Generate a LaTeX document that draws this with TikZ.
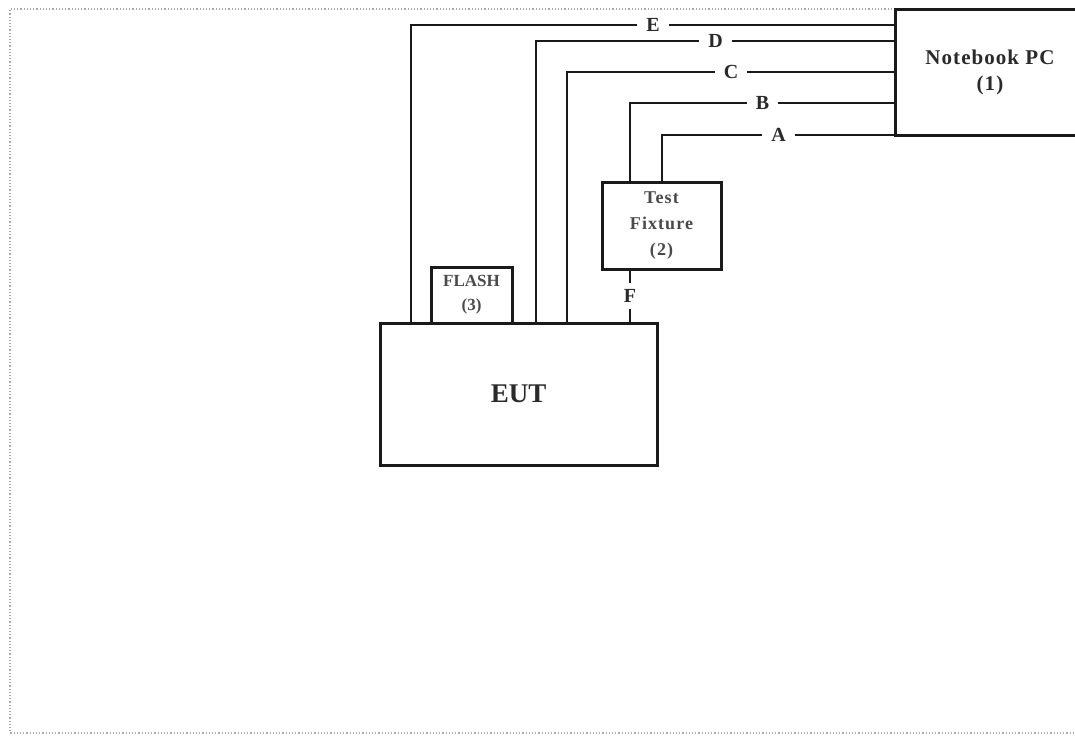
\documentclass[tikz,border=0pt]{standalone}
\usepackage{fontspec}
\setmainfont{Liberation Serif}
\usepackage{tikz}
\usetikzlibrary{positioning,calc}
\definecolor{setupInk}{HTML}{1A1A1A}
\definecolor{setupText}{HTML}{2A2A2A}
\definecolor{setupSoft}{HTML}{4A4A4A}
\definecolor{setupFrame}{HTML}{AAAAAA}
\tikzset{
  setupBox/.style={draw=setupInk,line width=3pt,fill=white,align=center,
    inner sep=0pt,outer sep=0pt,text=setupText},
  setupWire/.style={draw=setupInk,line width=2.7pt},
  setupLabel/.style={fill=white,inner xsep=9pt,inner ysep=3pt,text=setupText,
    font=\fontsize{20}{22}\selectfont\bfseries}
}

\begin{document}
\begin{tikzpicture}[x=1pt,y=-1pt]
\useasboundingbox (0,0) rectangle (1075,742);
\clip (0,0) rectangle (1075,742);
\draw[setupFrame,dotted,line width=1.2pt] (1100,9) -- (10,9) -- (10,733) -- (1100,733);
\node[setupBox,minimum width=190pt,minimum height=126pt,
  font=\fontsize{21}{26}\selectfont\bfseries\addfontfeature{LetterSpace=5}] (pc) at (990,72)
  {Notebook PC\\(1)};
\node[setupBox,minimum width=119pt,minimum height=87pt,text=setupSoft,
  font=\fontsize{18}{26}\selectfont\bfseries\addfontfeature{LetterSpace=6}] (fixture) at (661.5,225.5)
  {Test\\Fixture\\(2)};
\node[setupBox,minimum width=81pt,minimum height=56pt,text=setupSoft,
  font=\fontsize{17}{24}\selectfont\bfseries] (flash) at (471.5,295)
  {FLASH\\(3)};
\node[setupBox,minimum width=277pt,minimum height=142pt,
  font=\fontsize{27}{30}\selectfont\bfseries] (eut) at (518.5,394) {EUT};
% cables between the units
\draw[setupWire] ([xshift=31pt]eut.north west) |- node[setupLabel,pos=0.75] {E}
  ([yshift=-16pt]pc.north west);
\draw[setupWire] ([xshift=156pt]eut.north west) |- node[setupLabel,pos=0.75] {D}
  ([yshift=-32pt]pc.north west);
\draw[setupWire] ([xshift=187pt]eut.north west) |- node[setupLabel,pos=0.75] {C}
  ([yshift=-63pt]pc.north west);
\draw[setupWire] ([xshift=28pt]fixture.north west) |- node[setupLabel,pos=0.75] {B}
  ([yshift=-94pt]pc.north west);
\draw[setupWire] ([xshift=60pt]fixture.north west) |- node[setupLabel,pos=0.75] {A}
  (pc.south west);
\draw[setupWire] ([xshift=28pt]fixture.south west) -- node[setupLabel,inner xsep=3pt,inner ysep=6pt] {F}
  ([xshift=250pt]eut.north west);
\end{tikzpicture}
\end{document}
